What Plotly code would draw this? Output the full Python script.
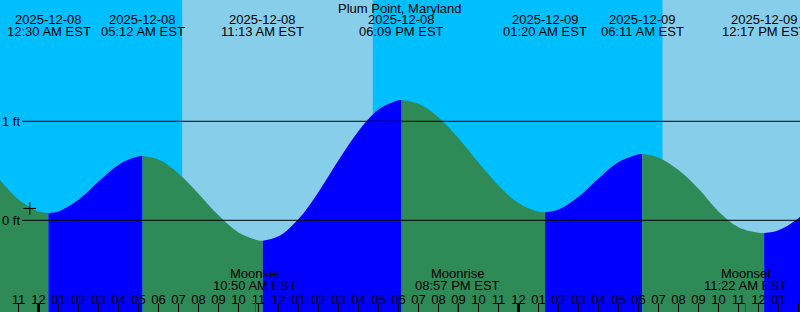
import pandas as pd
import plotly.graph_objects as go

STATION = "Plum Point, Maryland"

# Hourly tide heights (ft), starting 2025-12-07 22:00, one per hour
HOURLY_START = "2025-12-07 22:00"
HOURLY_FT = [0.425, 0.21, 0.09, 0.09, 0.207, 0.391, 0.562, 0.647, 0.613, 0.474,
             0.268, 0.05, -0.123, -0.203, -0.162, 0.014, 0.287, 0.606, 0.903, 1.12,
             1.213, 1.176, 1.039, 0.829, 0.584, 0.352, 0.175, 0.087, 0.108, 0.237,
             0.422, 0.588, 0.668, 0.635, 0.508, 0.319, 0.09, -0.07, -0.125, -0.10,
             0.022, 0.2]

# High / low tides
EXTREME_TIMES = ["2025-12-08 00:30", "2025-12-08 05:12", "2025-12-08 11:13",
                 "2025-12-08 18:09", "2025-12-09 01:20", "2025-12-09 06:11",
                 "2025-12-09 12:17"]
EXTREME_FT = [0.074, 0.65, -0.206, 1.215, 0.081, 0.67, -0.128]
EXTREME_KIND = ["low", "high", "low", "high", "low", "high", "low"]

# Moon events
MOON_TIMES = ["2025-12-08 10:50", "2025-12-08 20:57", "2025-12-09 11:22"]
MOON_EVENTS = ["Moonset", "Moonrise", "Moonset"]

# Daylight intervals (sunrise, sunset)
DAY_START = ["2025-12-08 07:11", "2025-12-09 07:12"]
DAY_END = ["2025-12-08 16:43", "2025-12-09 16:43"]

MIDNIGHTS = ["2025-12-08 00:00", "2025-12-09 00:00"]

MARK_TIME = "2025-12-07 23:34"
MARK_FT = 0.12

X_RANGE = ["2025-12-07 22:04:30", "2025-12-09 14:04:30"]
Y_RANGE = [-0.926, 2.225]

NIGHT = "#00BFFF"
DAYC = "#87CEEB"
FALL = "#2E8B57"
RISE = "#0000FF"
FONT = "Liberation Sans, Arial, sans-serif"
TICKFONT = dict(family=FONT, size=13, color="black")

hourly = pd.DataFrame({
    "t": pd.date_range(HOURLY_START, periods=len(HOURLY_FT), freq="h"),
    "ft": HOURLY_FT,
})
ext = pd.DataFrame({"t": pd.to_datetime(EXTREME_TIMES), "ft": EXTREME_FT, "kind": EXTREME_KIND})
allpts = pd.concat([hourly, ext[["t", "ft"]]]).sort_values("t").drop_duplicates("t").reset_index(drop=True)

fig = go.Figure()

bounds = [allpts["t"].min()] + list(ext["t"]) + [allpts["t"].max()]
kinds_next = list(ext["kind"]) + ["high" if EXTREME_KIND[-1] == "low" else "low"]
for i in range(len(bounds) - 1):
    a, b = bounds[i], bounds[i + 1]
    seg = allpts[(allpts["t"] >= a) & (allpts["t"] <= b)]
    color = FALL if kinds_next[i] == "low" else RISE
    fig.add_trace(go.Scatter(x=seg["t"], y=[Y_RANGE[0]] * len(seg), mode="lines",
                             line=dict(width=0, color=color), hoverinfo="skip"))
    fig.add_trace(go.Scatter(x=seg["t"], y=seg["ft"], mode="lines", fill="tonexty",
                             fillcolor=color, line=dict(width=0, color=color, shape="spline"),
                             hoverinfo="skip"))

fig.add_trace(go.Scatter(x=[MARK_TIME], y=[MARK_FT], mode="markers",
                         marker=dict(symbol="cross-thin", size=9, line=dict(color="black", width=1)),
                         hoverinfo="skip"))

# helper traces for overlay tick axes
for ax, xs in [("x2", MIDNIGHTS), ("x3", MOON_TIMES), ("x4", MIDNIGHTS)]:
    fig.add_trace(go.Scatter(x=xs, y=[Y_RANGE[0] - 1] * len(xs), xaxis=ax,
                             mode="markers", marker=dict(opacity=0), hoverinfo="skip"))

shapes = []
for s, e in zip(DAY_START, DAY_END):
    shapes.append(dict(type="rect", xref="x", yref="paper", x0=s, x1=e, y0=0, y1=1,
                       fillcolor=DAYC, line=dict(width=0), layer="below"))
for lvl in [0, 1]:
    shapes.append(dict(type="line", xref="paper", yref="y", x0=22 / 800, x1=1, y0=lvl, y1=lvl,
                       line=dict(color="black", width=1), layer="above"))

H = 312.0
ann = []
ann.append(dict(text=STATION, xref="paper", yref="paper", x=0.5, y=1 - 8 / H,
                yanchor="middle", xanchor="center", showarrow=False))
for t in pd.to_datetime(EXTREME_TIMES):
    ann.append(dict(text=t.strftime("%Y-%m-%d"), xref="x", yref="paper", x=t, y=1 - 19.5 / H,
                    yanchor="middle", xanchor="center", showarrow=False))
    ann.append(dict(text=t.strftime("%I:%M %p") + " EST", xref="x", yref="paper", x=t,
                    y=1 - 32 / H, yanchor="middle", xanchor="center", showarrow=False))
for t, ev in zip(pd.to_datetime(MOON_TIMES), MOON_EVENTS):
    ann.append(dict(text=ev, xref="x", yref="paper", x=t, y=1 - 273.5 / H,
                    yanchor="middle", xanchor="center", showarrow=False))
    ann.append(dict(text=t.strftime("%I:%M %p") + " EST", xref="x", yref="paper", x=t,
                    y=1 - 285.5 / H, yanchor="middle", xanchor="center", showarrow=False))

tick_common = dict(type="date", range=X_RANGE, overlaying="x", anchor="y", side="bottom",
                   ticks="inside", ticklen=9, showticklabels=False, showgrid=False,
                   zeroline=False, showline=False, fixedrange=True)

fig.update_layout(
    width=800, height=312, margin=dict(l=0, r=0, t=0, b=0, pad=0),
    paper_bgcolor=NIGHT, plot_bgcolor=NIGHT, showlegend=False,
    font=dict(family=FONT, size=13, color="black"),
    shapes=shapes, annotations=ann,
    # hour labels: free axis placed just above the bottom tick marks
    xaxis=dict(type="date", range=X_RANGE, tick0="2025-12-08 00:00", dtick=3600000,
               tickformat="%I", ticks="", tickfont=TICKFONT, anchor="free",
               position=(312 - 290) / 312, side="bottom",
               showgrid=False, zeroline=False, showline=False, fixedrange=True),
    xaxis2=dict(tickvals=MIDNIGHTS, tickwidth=3, tickcolor="black", **tick_common),
    xaxis3=dict(tickvals=MOON_TIMES, tickwidth=1, tickcolor="red", **tick_common),
    xaxis4=dict(tick0="2025-12-08 00:00", dtick=3600000, tickwidth=1, tickcolor="black",
                **tick_common),
    # level labels: free axis placed where the level lines begin
    yaxis=dict(range=Y_RANGE, tickvals=[0, 1], ticktext=["0 ft", "1 ft"], ticks="",
               tickfont=TICKFONT, anchor="free", position=20 / 800, side="left",
               showgrid=False, zeroline=False, showline=False, fixedrange=True),
)

fig.write_html("out.html")
